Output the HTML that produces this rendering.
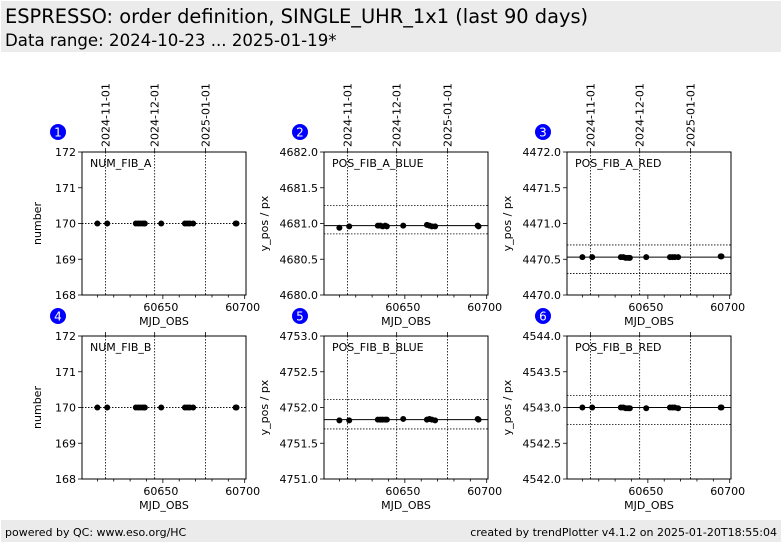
<!DOCTYPE html>
<html><head><meta charset="utf-8"><style>
body{margin:0;background:#fff;width:782px;height:542px;overflow:hidden;font-family:"DejaVu Sans","Liberation Sans",sans-serif}
svg text{font-family:"DejaVu Sans","Liberation Sans",sans-serif}
</style></head><body>
<svg id="chart" width="782" height="542" xmlns="http://www.w3.org/2000/svg">
<rect x="1" y="1" width="780" height="51" fill="#ebebeb"/>
<text x="5" y="23" font-size="19.4">ESPRESSO: order definition, SINGLE_UHR_1x1 (last 90 days)</text>
<text x="5" y="46" font-size="16.6">Data range: 2024-10-23 ... 2025-01-19*</text>
<rect x="1" y="520" width="780" height="22" fill="#ebebeb"/>
<text x="5" y="536" font-size="11">powered by QC: www.eso.org/HC</text>
<text x="777" y="536" font-size="11" text-anchor="end">created by trendPlotter v4.1.2 on 2025-01-20T18:55:04</text>
<g id="panels"></g>
</svg>
<script>
const mjd = [60610, 60616, 60633.5, 60635, 60636.5, 60638, 60639, 60649, 60663.5, 60665, 60666.5, 60668.5, 60694.5, 60695];
const numFibA = [170,170,170,170,170,170,170,170,170,170,170,170,170,170];
const posFibABlue = [4680.94,4680.96,4680.97,4680.97,4680.96,4680.97,4680.96,4680.97,4680.98,4680.97,4680.96,4680.96,4680.97,4680.96];
const posFibARed = [4470.53,4470.53,4470.53,4470.53,4470.52,4470.52,4470.52,4470.53,4470.53,4470.53,4470.53,4470.53,4470.54,4470.54];
const numFibB = [170,170,170,170,170,170,170,170,170,170,170,170,170,170];
const posFibBBlue = [4751.82,4751.82,4751.83,4751.83,4751.83,4751.83,4751.83,4751.84,4751.83,4751.84,4751.83,4751.82,4751.84,4751.83];
const posFibBRed = [4543.0,4543.0,4543.0,4543.0,4542.99,4542.99,4542.99,4542.99,4543.0,4543.0,4543.0,4542.99,4543.0,4543.0];
const dateTickMjd = [60615, 60645, 60676];
const dateTickLabels = ["2024-11-01","2024-12-01","2025-01-01"];
const xTicks = [60650, 60700];
const panelNames = ["NUM_FIB_A","POS_FIB_A_BLUE","POS_FIB_A_RED","NUM_FIB_B","POS_FIB_B_BLUE","POS_FIB_B_RED"];
const panelSeries = [numFibA,posFibABlue,posFibARed,numFibB,posFibBBlue,posFibBRed];
const yMins = [168,4680,4470,168,4751,4542];
const yMaxs = [172,4682,4472,172,4753,4544];
const yLabels = ["number","y_pos / px","y_pos / px","number","y_pos / px","y_pos / px"];
const means = [170,4680.97,4470.53,170,4751.83,4543.0];
const upperLim = [170,4681.25,4470.70,170,4752.11,4543.17];
const lowerLim = [170,4680.855,4470.30,170,4751.70,4542.76];

const NS="http://www.w3.org/2000/svg";
const XMIN=60600.6, XMAX=60700.8;
const lefts=[82,324,567], tops=[152,336], W=164, H=143;
const g=document.getElementById('panels');
function el(tag,attrs,parent){const e=document.createElementNS(NS,tag);for(const k in attrs)e.setAttribute(k,attrs[k]);(parent||g).appendChild(e);return e;}
function fmt(v,step){return step<1?v.toFixed(1):String(v);}

panelNames.forEach((name,i)=>{
  const L=lefts[i%3], T=tops[Math.floor(i/3)];
  const xs=v=>L+(v-XMIN)/(XMAX-XMIN)*W;
  const ys=v=>T+H-(v-yMins[i])/(yMaxs[i]-yMins[i])*H;
  const pg=el('g',{});
  
  
  const b=el('circle',{cx:L-24,cy:T-20,r:8,fill:'#0000ff'},pg);
  
  
  const bt=el('text',{x:L-24,y:T-15.5,'font-size':12,fill:'#fff','text-anchor':'middle'},pg);bt.textContent=String(i+1);
  
  
  dateTickMjd.forEach((d,k)=>{
    const x=xs(d);
    const ln=el('line',{x1:x,x2:x,y1:T,y2:T+H,stroke:'#000','stroke-width':0.8,'stroke-dasharray':'1.5,1.5'},pg);
    
    
    el('line',{x1:x,x2:x,y1:T,y2:T-4,stroke:'#000','stroke-width':0.8},pg);
    if(i<3){
      const t=el('text',{x:0,y:0,'font-size':11,transform:`translate(${x+4},${T-5}) rotate(-90)`},pg);
      t.textContent=dateTickLabels[k];
      
      
    }
  });
  [upperLim[i],lowerLim[i]].forEach(v=>{
    const ln=el('line',{x1:L,x2:L+W,y1:ys(v),y2:ys(v),stroke:'#000','stroke-width':0.8,'stroke-dasharray':'1.5,1.5'},pg);
    
    
  });
  if(upperLim[i]!==lowerLim[i]){
    const ml=el('line',{x1:L,x2:L+W,y1:ys(means[i]),y2:ys(means[i]),stroke:'#000','stroke-width':1},pg);
    
    
  }
  panelSeries[i].forEach((v,k)=>{
    const c=el('circle',{cx:xs(mjd[k]),cy:ys(v),r:3,fill:'#000'},pg);
    
    
  });
  const fr=el('rect',{x:L,y:T,width:W,height:H,fill:'none',stroke:'#000','stroke-width':1},pg);
  
  
  const lab=el('text',{x:L+8,y:T+15,'font-size':11},pg);lab.textContent=name;
  
  
  const step=(yMaxs[i]-yMins[i])/4;
  for(let k=0;k<=4;k++){
    const v=yMins[i]+k*step, y=ys(v);
    el('line',{x1:L,x2:L-4,y1:y,y2:y,stroke:'#000','stroke-width':0.8},pg);
    const t=el('text',{x:L-6,y:y+4,'font-size':11,'text-anchor':'end'},pg);t.textContent=fmt(v,step);
    
    
  }
  const off = step<1 ? 56 : 41;
  const yl=el('text',{x:0,y:0,'font-size':11,'text-anchor':'middle',transform:`translate(${L-off},${T+H/2}) rotate(-90)`},pg);
  yl.textContent=yLabels[i];
  
  
  for(let v=60610;v<=60700;v+=10){
    const major=xTicks.includes(v);
    el('line',{x1:xs(v),x2:xs(v),y1:T+H,y2:T+H+(major?4:2.5),stroke:'#000','stroke-width':0.8},pg);
  }
  xTicks.forEach(v=>{
    const t=el('text',{x:xs(v)-2,y:T+H+16,'font-size':11,'text-anchor':'middle'},pg);t.textContent=String(v);
    
    
  });
  const xl=el('text',{x:L+W/2,y:T+H+30,'font-size':11,'text-anchor':'middle'},pg);xl.textContent='MJD_OBS';
  
  
});
</script>
</body></html>
